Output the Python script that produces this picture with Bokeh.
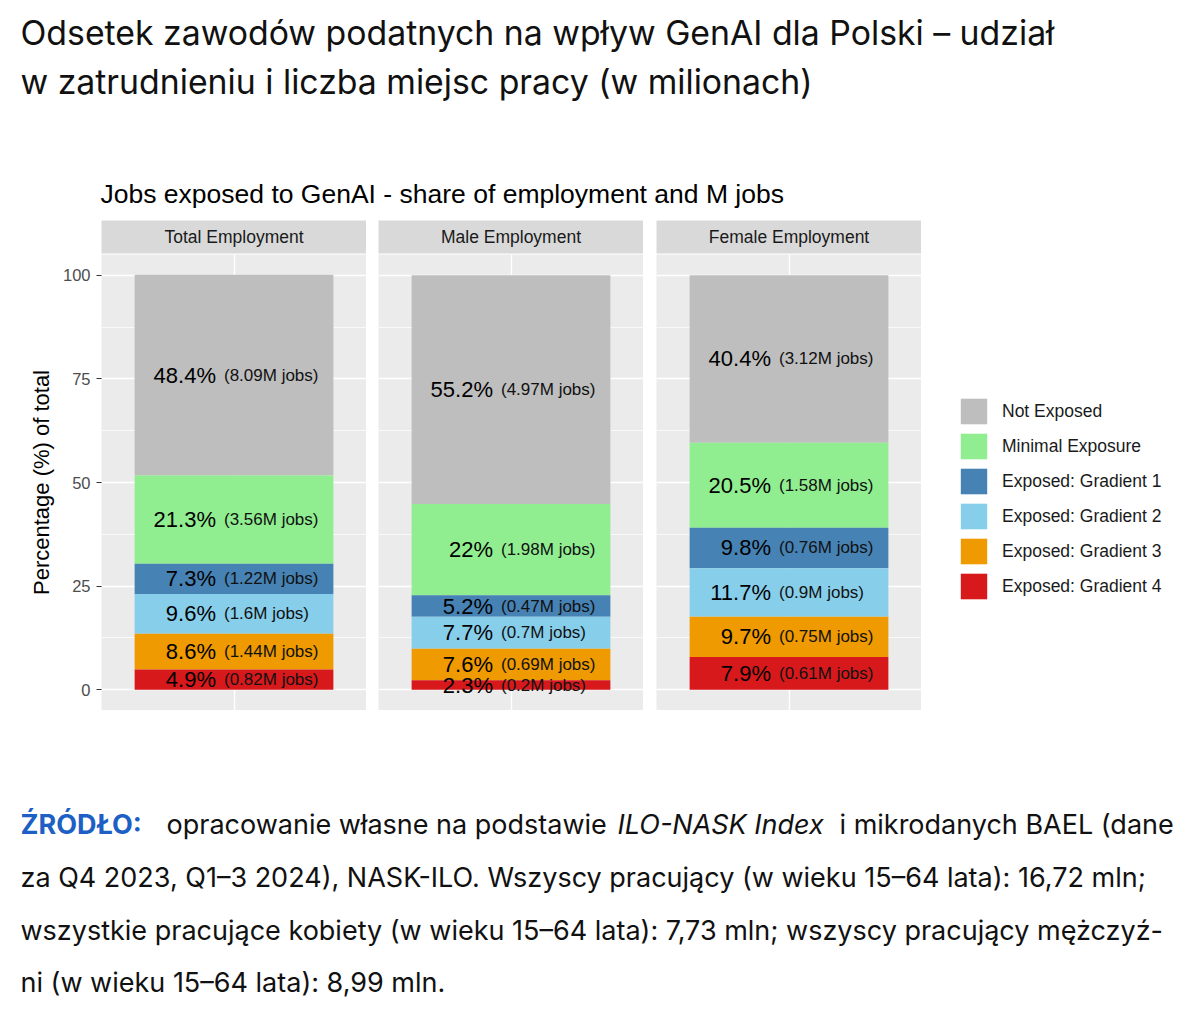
from bokeh.plotting import figure
from bokeh.models import Range1d, FixedTicker, ColumnDataSource, Legend, LegendItem
from bokeh.layouts import row, column
from bokeh.embed import file_html
from bokeh.resources import INLINE
from bokeh.core.properties import value

# ---- data -----------------------------------------------------------------
categories = ["Not Exposed", "Minimal Exposure", "Exposed: Gradient 1",
              "Exposed: Gradient 2", "Exposed: Gradient 3", "Exposed: Gradient 4"]
colors = ["#BEBEBE", "#90EE90", "#4682B4", "#87CEEB", "#EE9A00", "#D7191C"]

panels = ["Total Employment", "Male Employment", "Female Employment"]

total_pct = [48.4, 21.3, 7.3, 9.6, 8.6, 4.9]
total_jobs = [8.09, 3.56, 1.22, 1.6, 1.44, 0.82]
male_pct = [55.2, 22, 5.2, 7.7, 7.6, 2.3]
male_jobs = [4.97, 1.98, 0.47, 0.7, 0.69, 0.2]
female_pct = [40.4, 20.5, 9.8, 11.7, 9.7, 7.9]
female_jobs = [3.12, 1.58, 0.76, 0.9, 0.75, 0.61]

y_ticks = [0, 25, 50, 75, 100]
y_minor = [12.5, 37.5, 62.5, 87.5]

title_lines = ["Odsetek zawodów podatnych na wpływ GenAI dla Polski – udział",
               "w zatrudnieniu i liczba miejsc pracy (w milionach)"]
chart_title = "Jobs exposed to GenAI - share of employment and M jobs"
y_label = "Percentage (%) of total"

source_label = "ŹRÓDŁO:"
source_line1 = ["opracowanie własne na podstawie", "ILO-NASK Index", "i mikrodanych BAEL (dane"]
source_rest = ["za Q4 2023, Q1–3 2024), NASK-ILO. Wszyscy pracujący (w wieku 15–64 lata): 16,72 mln;",
               "wszystkie pracujące kobiety (w wieku 15–64 lata): 7,73 mln; wszyscy pracujący mężczyź-",
               "ni (w wieku 15–64 lata): 8,99 mln."]

PANEL_FONT = "Liberation Sans"
HEAD_FONT = "Inter"
FRAME_W = 265
STRIP_H = 34
PANEL_H = 456


def blank_fig(**kw):
    fig = figure(output_backend="svg", toolbar_location=None, title=None,
                 x_axis_location=None, y_axis_location=None, **kw)
    fig.grid.visible = False
    fig.outline_line_color = None
    return fig


def stacked_source(pct, jobs):
    tops, bottoms = [], []
    for i in range(len(pct)):
        b = sum(pct[i + 1:])
        bottoms.append(b)
        tops.append(b + pct[i])
    mids = [(b + t) / 2 for b, t in zip(bottoms, tops)]
    return ColumnDataSource(dict(
        x=[1.0] * len(pct), bottom=bottoms, top=tops, mid=mids,
        color=colors, category=categories,
        pct_txt=[f"{v:g}%" for v in pct],
        jobs_txt=[f"({j:g}M jobs)" for j in jobs],
    ))


def make_panel(name, pct, jobs, left_border, show_axis):
    w = left_border + FRAME_W
    strip = blank_fig(width=w, height=STRIP_H, x_range=Range1d(0, 1), y_range=Range1d(0, 1),
                      min_border_left=left_border, min_border_right=0,
                      min_border_top=0, min_border_bottom=1,
                      background_fill_color="#D9D9D9", border_fill_color="white")
    strip.text(x=[0.5], y=[0.5], text=[name], text_align="center", text_baseline="middle",
               text_font=value(PANEL_FONT), text_font_size="17.5px", text_color="#1A1A1A")

    p = figure(width=w, height=PANEL_H, x_range=Range1d(0.4, 1.6), y_range=Range1d(-5, 105),
               output_backend="svg", toolbar_location=None, title=None,
               min_border_left=left_border, min_border_right=0,
               min_border_top=0, min_border_bottom=0,
               x_axis_location=None, y_axis_location="left" if show_axis else None,
               background_fill_color="#EBEBEB", border_fill_color="white")
    p.outline_line_color = None
    p.xgrid.ticker = FixedTicker(ticks=[1])
    p.ygrid.ticker = FixedTicker(ticks=y_ticks, minor_ticks=y_minor)
    p.grid.grid_line_color = "white"
    p.grid.grid_line_width = 1.4
    p.ygrid.minor_grid_line_color = "white"
    p.ygrid.minor_grid_line_width = 0.7

    if show_axis:
        ax = p.yaxis[0]
        ax.ticker = FixedTicker(ticks=y_ticks)
        ax.axis_line_color = None
        ax.major_tick_in = 0
        ax.major_tick_out = 5
        ax.major_tick_line_color = "#333333"
        ax.minor_tick_line_color = None
        ax.major_label_standoff = 6
        ax.major_label_text_font = PANEL_FONT
        ax.major_label_text_font_size = "16.5px"
        ax.major_label_text_color = "#4D4D4D"
        ax.axis_label = y_label
        ax.axis_label_text_font = PANEL_FONT
        ax.axis_label_text_font_size = "22px"
        ax.axis_label_text_font_style = "normal"
        ax.axis_label_text_color = "black"
        ax.axis_label_standoff = 6

    src = stacked_source(pct, jobs)
    p.vbar(x="x", width=0.9, bottom="bottom", top="top", source=src,
           fill_color="color", line_color=None)
    p.text(x="x", y="mid", text="pct_txt", source=src, x_offset=-18,
           text_align="right", text_baseline="middle",
           text_font=value(PANEL_FONT), text_font_size="22px", text_color="black")
    p.text(x="x", y="mid", text="jobs_txt", source=src, x_offset=-10,
           text_align="left", text_baseline="middle",
           text_font=value(PANEL_FONT), text_font_size="17px", text_color="#111111")
    return strip, p, src


s1, p1, src1 = make_panel(panels[0], total_pct, total_jobs, 101, True)
s2, p2, src2 = make_panel(panels[1], male_pct, male_jobs, 12, False)
s3, p3, src3 = make_panel(panels[2], female_pct, female_jobs, 13, False)

# ---- legend column: keys use the same stacked data, renderer kept hidden ----
leg_fig = blank_fig(width=279, height=STRIP_H + PANEL_H, x_range=Range1d(10, 11),
                    y_range=Range1d(-5, 105), min_border=0)
leg_r = leg_fig.vbar(x="x", width=0.9, bottom="bottom", top="top", source=src3,
                     fill_color="color", line_color=None)
leg_r.visible = False
legend = Legend(items=[LegendItem(label=c, renderers=[leg_r], index=i)
                       for i, c in enumerate(categories)],
                location=(36, 108), margin=0, padding=0, spacing=3,
                glyph_width=33, glyph_height=32, label_standoff=12,
                label_text_font=PANEL_FONT, label_text_font_size="17.5px",
                label_text_color="#1A1A1A", border_line_color=None,
                background_fill_alpha=0, click_policy="none")
leg_fig.add_layout(legend)

# ---- header ---------------------------------------------------------------
head = blank_fig(width=1200, height=220, x_range=Range1d(0, 1200), y_range=Range1d(220, 0),
                 min_border=0)
head.text(x=[20, 20], y=[31.7, 81], text=title_lines, text_baseline="middle",
          text_font=value(HEAD_FONT), text_font_size="33.8px", text_color="#111111")
head.text(x=[100], y=[193.3], text=[chart_title], text_baseline="middle",
          text_font=value(PANEL_FONT), text_font_size="26.5px", text_color="black")

# ---- source note ------------------------------------------------------------
foot = blank_fig(width=1200, height=312, x_range=Range1d(0, 1200), y_range=Range1d(1022, 710),
                 min_border=0)
mid_y = [824, 877, 930, 982]
FOOT_SIZE = "27px"
foot.text(x=[20], y=[mid_y[0]], text=[source_label], text_baseline="middle",
          text_font=value(HEAD_FONT), text_font_size=FOOT_SIZE, text_font_style="bold",
          text_color="#1D5FC4")
foot.text(x=[166, 839], y=[mid_y[0], mid_y[0]], text=[source_line1[0], source_line1[2]],
          text_baseline="middle", text_font=value(HEAD_FONT), text_font_size=FOOT_SIZE,
          text_color="#111111")
foot.text(x=[617], y=[mid_y[0]], text=[source_line1[1]], text_baseline="middle",
          text_font=value(HEAD_FONT), text_font_size=FOOT_SIZE, text_font_style="italic",
          text_color="#111111")
foot.text(x=[20, 20, 20], y=mid_y[1:], text=source_rest, text_baseline="middle",
          text_font=value(HEAD_FONT), text_font_size=FOOT_SIZE, text_color="#111111")

middle = row(column(s1, p1), column(s2, p2), column(s3, p3), leg_fig)
layout = column(head, middle, foot)

open("out.html", "w").write(file_html(layout, INLINE))
